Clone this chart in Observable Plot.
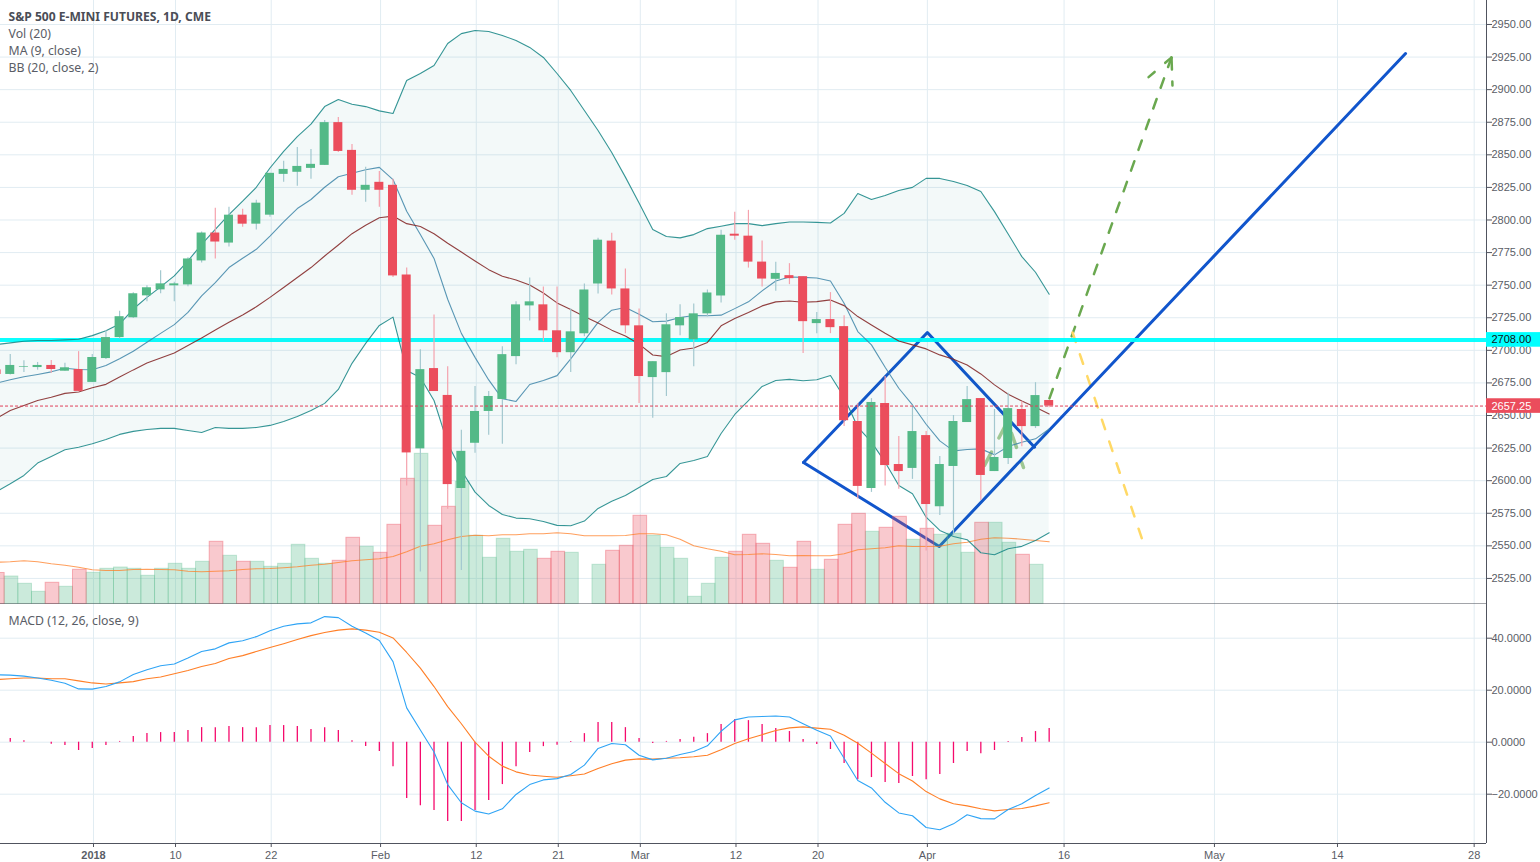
<!DOCTYPE html>
<html><head><meta charset="utf-8">
<style>html,body{margin:0;padding:0;background:#fff;overflow:hidden}svg{display:block}</style>
<script src="https://cdn.jsdelivr.net/npm/d3@7"></script>
<script src="https://cdn.jsdelivr.net/npm/@observablehq/plot@0.6"></script>
</head><body><div id="chart"></div>
<script>
const firstBar=-7;
const opens=[2685,2681.5,2687,2686.8,2688.4,2684,2685.3,2675.4,2693.7,2709.8,2725,2741.8,2746.4,2749.5,2750.2,2768.6,2790,2782.3,2803.7,2796.8,2803.7,2835,2836.6,2839.6,2841.9,2874.7,2853.4,2822.8,2828.9,2826.6,2757.8,2624.4,2686,2665.4,2594,2628.7,2653.1,2662.3,2695.2,2734.1,2734.9,2715,2698.2,2712.7,2750.9,2783.8,2747.1,2718.8,2679.1,2682.9,2718.8,2708.1,2728,2741.7,2789.1,2787.6,2767.7,2754.5,2757.3,2756.5,2720.5,2723.6,2718.2,2645.4,2594,2659.2,2612.4,2609.4,2634.6,2580,2610.9,2644.6,2663,2607,2617,2654.6,2641.5,2661.5];
const closes=[2681.5,2688.4,2687.5,2688.4,2685.3,2686.6,2668.5,2694.5,2709.8,2725.8,2743.4,2748,2751,2751,2770.1,2790,2783.1,2803.7,2796.8,2812.9,2835.8,2838.8,2841.1,2842.7,2874.7,2852.6,2822.8,2826.6,2822.8,2757.1,2621.3,2685.2,2668.4,2597,2622.5,2653.1,2664.6,2696.7,2734.9,2737.2,2715,2698.2,2714.2,2746.3,2784.5,2747.1,2718.8,2679.9,2691.3,2719.6,2725.2,2728,2744,2788.3,2787.6,2767.7,2754.7,2759,2755,2722,2723.6,2717.4,2646,2595.6,2660,2611.6,2607,2637.7,2581.7,2612.4,2645.4,2662.2,2604,2617.8,2655.3,2641.5,2665.3,2657.25];
const highs=[2686,2696.8,2692,2690.7,2692.2,2690,2699,2696.8,2715,2729.9,2744.1,2749.5,2761,2752.3,2771,2790.7,2809,2809.8,2808.3,2815.2,2835.8,2845,2855.7,2854.1,2876.3,2878.6,2858,2840.4,2837.3,2831.2,2763.1,2700.5,2727.2,2687.5,2638.6,2672.2,2668.4,2702.8,2737.2,2755.5,2748.6,2748.6,2731.8,2750.9,2786,2789.9,2762.4,2731.8,2691.3,2728,2734.9,2735.6,2746.3,2792.2,2805.9,2807.4,2783.8,2767.5,2766.5,2756.5,2729,2744.3,2726.6,2659.2,2663,2680,2633.9,2657.6,2637.7,2618.5,2650,2672.2,2663,2654.6,2667,2660.7,2675.2,2661.5];
const lows=[2681,2681,2683,2684.8,2682.5,2684,2668,2675.4,2693,2708.7,2724.5,2737.3,2743.4,2737.3,2748.7,2767,2770.1,2779.3,2794.5,2792.3,2802.2,2828.9,2825.9,2831.2,2841.9,2851.8,2819,2813.6,2809.8,2755.8,2596,2530,2668.4,2578,2531,2621,2634.8,2628,2689,2722.6,2706.6,2694.4,2683,2710.4,2743.3,2742.5,2712.7,2659.3,2647.8,2664.6,2711.2,2687.5,2725.7,2736.4,2784.5,2763.1,2748.6,2745.3,2750.4,2697.5,2712.8,2712.8,2641.5,2586,2591,2596,2593.5,2601,2546,2573.3,2558,2644.6,2584.8,2607,2612.4,2626,2640,2656];
const bbUpper=[2704.4,2705.7,2707,2707.5,2707.5,2708,2708.5,2711.3,2715,2720.2,2731.7,2740.6,2748.7,2757.1,2768.6,2781.3,2792.8,2804.2,2814.4,2825.1,2839.9,2852.6,2864,2873.5,2887,2892.5,2888.8,2887,2883.7,2881.7,2907,2912.4,2918.5,2935.4,2943,2945.4,2944.6,2941.6,2937.7,2932.4,2924.7,2912.4,2899.4,2884,2868.7,2851.8,2832.9,2813,2792.7,2787.3,2786.3,2788.8,2793.4,2795.2,2797.2,2797.2,2795.7,2797.2,2798.5,2798.5,2798.2,2797.7,2805.1,2820.3,2815.7,2818.8,2822.6,2825,2831.9,2831.9,2829.6,2826.5,2821.9,2806.4,2789.3,2771.9,2759.9,2743];
const bbLower=[2591.7,2597.6,2604,2613.5,2618.6,2623.7,2625.7,2628.3,2631.6,2635.5,2637.8,2639.3,2640.1,2640.1,2638.5,2637,2640.8,2640.1,2640.1,2640.8,2642.4,2645.4,2649.3,2653.9,2659.3,2670,2690,2705.3,2719.1,2725.5,2684.6,2679.2,2661.5,2628.6,2607.8,2591.2,2581,2574.1,2571.3,2570.8,2568.7,2565.7,2565.4,2569,2578.7,2584.2,2588.6,2594.8,2600.9,2603.2,2613.2,2615.5,2618.6,2636.2,2650.8,2661.5,2672.3,2676.9,2677.7,2676.7,2677.4,2680.7,2664,2641,2629.6,2614.2,2596.3,2590,2572,2561.8,2557.2,2554.7,2544.7,2543.2,2547.8,2549.6,2554.1,2560];
const bbBasis=[2674.9,2677.4,2679.7,2681.5,2683.5,2686.3,2685.3,2685.1,2688.4,2693.5,2699.3,2706.2,2713,2719.7,2729.1,2741.8,2752,2763.5,2770.6,2777.5,2787.7,2798.6,2808.8,2815.7,2825.1,2833.2,2835.8,2838.6,2840.4,2831,2806.7,2788.8,2770.5,2739.2,2713,2694.6,2677.3,2662.8,2660.8,2673.8,2676.8,2680.6,2693.4,2707.4,2721.4,2730.8,2732.8,2727.7,2721.9,2722.4,2725.2,2726.7,2726.5,2727,2732,2737.2,2745.6,2753.2,2756.3,2756,2755.5,2753.2,2736.1,2714.4,2704.2,2687,2670.9,2658.1,2643.3,2630.5,2622.9,2623.9,2624.4,2619.8,2626.2,2629.5,2632.1,2639.7];
const ma9=[2647.7,2653.9,2657.7,2661.5,2664,2667,2668,2671.3,2673.9,2679.5,2685,2690.2,2694.2,2698,2703.7,2709.5,2715.6,2721.5,2727.1,2733.4,2740.6,2748.2,2755.9,2763.5,2772.4,2780.8,2789.5,2796,2801.7,2803,2797.2,2795,2789.4,2782.2,2775.4,2768.5,2761.9,2756.8,2754,2750.1,2744,2736.4,2731.3,2726,2720.9,2715.5,2711,2704.8,2696.4,2695.2,2700.2,2701.8,2706.1,2718.8,2724.4,2729,2734.1,2737.2,2737.9,2736.9,2737.4,2738.7,2734.3,2725.9,2719.5,2713.1,2707.2,2704.2,2701.1,2696.5,2693.2,2688.8,2681.9,2673.5,2666.3,2661.2,2656.4,2651.2];
const volumes=[31,27.5,20.2,12.2,21.2,17.2,34.2,31.2,35.2,36.5,35.2,28.2,35.2,40.2,35.2,42.2,62.2,48.2,42.2,42.2,37.2,40.2,59.2,45.2,40.2,43.2,66.2,57.2,51.2,79.2,125.2,150.2,78.2,97.2,122.2,68.2,46.2,65.2,52.2,54.2,45.2,52.2,51.2,0,39.2,53.2,58.2,88.2,68.2,56.2,45.2,7.2,20.2,46.2,52.2,69.2,60.2,43.2,36.2,62.2,34.2,44.2,79.2,90.2,72.2,76.2,87.2,64.2,75.2,69.2,70.2,51.2,81.2,81.2,61.2,49.2,39.2,0];
const volMA=[41.8,42.2,43.2,42.2,40.2,38.8,36.8,34.2,33.5,33.5,34.5,34.8,34.5,34.2,32.8,32.2,32.8,33.2,34.5,35.2,35.5,36.2,37.2,38.8,39.8,41.5,43.2,44.2,45.2,47.5,52.2,57.8,60.2,64.2,67.5,68.8,68.2,69.2,69.2,70.2,70.2,71.2,70.2,68.2,68.2,68.2,68.5,70.2,70.2,69.2,64.8,58.2,55.2,52.8,49.2,49.5,50.2,49.5,48.2,48.5,48.2,48.2,50.2,54.2,55.2,56.2,58.2,57.5,57.5,57.8,60.2,61.8,64.8,66.2,65.8,64.8,63.5,62.2];
const macd=[25.9,25.8,25.4,24.7,23.8,22.7,20.5,20.4,21.4,23.2,26,27.9,29.4,30.1,32.4,34.9,35.9,38.2,39,40.6,42.9,44.6,45.5,45.9,48.3,47.9,44.6,42,39.1,31,13.2,4.7,-3.8,-16.3,-23.3,-26.5,-27.6,-25.6,-20.1,-16.3,-14.5,-14,-12.4,-8.8,-2.4,-0.5,-1,-5,-6.8,-6.2,-4.7,-3.6,-1.4,4.2,8.6,9.7,9.9,10.1,9.7,7.1,4.6,2.4,-6.2,-14.7,-17.6,-23.1,-27.2,-28.3,-32.8,-33.7,-31.4,-27.9,-29.4,-29.5,-25.9,-23.7,-20.5,-17.6];
const signal=[24.1,24.4,24.7,24.7,24.4,24.4,23.6,22.8,22.4,22.8,23.3,24.4,25.1,26.3,27.6,29.1,30.3,32.2,33.3,34.9,36.4,37.9,39.5,41,42.2,43.1,43.6,43.1,42.3,40.1,34.5,28.5,21.4,13.7,7.1,0,-5.4,-9.2,-11.4,-12.6,-13.1,-13.5,-12.9,-12.2,-10.1,-8.3,-6.9,-6.4,-6.5,-6.2,-6,-5.6,-5,-2.9,-0.5,1.3,2.9,4.5,5.5,5.9,5.4,5,2.7,-0.4,-4.2,-8.2,-12.1,-14.9,-19,-21.8,-23.7,-24.5,-25.6,-26.4,-25.9,-25.5,-24.5,-23.3];
const hist=[0,1.4,0.6,0,-0.8,-1.3,-3.2,-2.4,-1.3,0.3,2.2,3.3,3.7,3.7,4.5,5.6,5.6,6,5.6,5.6,6.4,6.4,6,4.9,5.6,4.5,0.6,-1.7,-3.6,-9.4,-21.7,-24.4,-26.3,-30.5,-30.5,-26.3,-22.4,-16.3,-9.4,-4,-1.7,-1.2,0.3,3.3,7.6,7.6,5.6,1.4,-0.5,0.3,1,1.9,3.3,6.8,8.7,8.3,6.8,5.3,4.1,1,-0.9,-2.8,-8.2,-14.4,-13.6,-15.5,-15.9,-13.2,-14.4,-12.4,-8.2,-3.6,-4.4,-3.2,0.3,1.8,4.1,5.3];

const priceTicks=d3.range(2525,2951,25);
const macdTicks=[40,20,0,-20];
const timeTickBars=[0,6,13,21,28,34,40,47,53,61,71,82,91,101];
const timeTickLabels=["2018","10","22","Feb","12","21","Mar","12","20","Apr","16","May","14","28"];
const legendLines=["S&P 500 E-MINI FUTURES, 1D, CME","Vol (20)","MA (9, close)","BB (20, close, 2)"];
const levelPrice=2708, lastPrice=2657.25;
// trend drawings as [bar, price]
const diamondA=[[51.94,2614],[61,2713.7],[68.84,2625.7]];
const diamondB=[[51.94,2614],[61.87,2549.5],[95.98,2927.7]];
const greenZig=[[65.18,2611.7],[66.86,2645.4],[68.03,2610.1]];
const greenShaft=[[69.93,2663.1],[78.86,2924.7]];
const greenBarbL=[[77.18,2909.6],[78.86,2924.7]];
const greenBarbR=[[78.86,2924.7],[78.93,2903.2]];
const yellowPath=[[71.62,2713.7],[76.74,2554.1]];

const W=1540, axisX=1486, barPx=13.67, bar0Px=93, barShift=-0.09;
const xDomain=[-bar0Px/barPx,(axisX-bar0Px)/barPx];
const rows=opens.map((o,k)=>({i:firstBar+k+barShift,o,c:closes[k],h:highs[k],l:lows[k],up:bbUpper[k],lo:bbLower[k],basis:bbBasis[k],ma:ma9[k],v:volumes[k],vm:volMA[k],m:macd[k],s:signal[k],hs:hist[k]}));
const green="#53b987", red="#eb4d5c", grid="#e1ecf2", axisC="#50535e", txt="#5a5d66", dashGreen="#6aa84f";
const priceBase=2505.4, pxPerPoint=1.3035;
const volP=v=>priceBase+v/pxPerPoint; // volume pane overlays the bottom of the price pane
const bodyHalf=0.33;
const ups=rows.filter(d=>d.c>=d.o), downs=rows.filter(d=>d.c<d.o);
const vol=rows.filter(d=>d.v>0);
const L=(pts,o)=>Plot.line(pts,{x:d=>d[0],y:d=>d[1],...o});
const font='"Liberation Sans",Arial,sans-serif';

const topPane=Plot.plot({
  width:W,height:604,marginTop:0,marginBottom:0,marginLeft:0,marginRight:W-axisX,
  style:{fontFamily:font,background:"#fff"},
  x:{domain:xDomain,axis:null},
  y:{domain:[2505,2968.4],axis:null},
  marks:[
    Plot.ruleY(priceTicks,{stroke:grid}),
    Plot.ruleX(timeTickBars,{stroke:grid}),
    L(greenZig,{stroke:dashGreen,strokeOpacity:.6,strokeWidth:3.5,strokeDasharray:"15,16"}),
    L(greenShaft,{stroke:dashGreen,strokeWidth:2.5,strokeDasharray:"10,12"}),
    L(greenBarbL,{stroke:dashGreen,strokeWidth:2.5,strokeDasharray:"8,14"}),
    L(greenBarbR,{stroke:dashGreen,strokeWidth:2.5,strokeDasharray:"12,12"}),
    L(yellowPath,{stroke:"#ffd966",strokeWidth:2.5,strokeDasharray:"10,13"}),
    L(diamondA,{stroke:"#1155cc",strokeWidth:3}),
    L(diamondB,{stroke:"#1155cc",strokeWidth:3}),
    Plot.ruleY([levelPrice],{stroke:"#00ffff",strokeWidth:4,opacity:.95}),
    Plot.rect(vol.filter(d=>d.c>=d.o),{x1:d=>d.i-.41,x2:d=>d.i+.59,y1:priceBase,y2:d=>volP(d.v),fill:green,fillOpacity:.3,stroke:green,strokeOpacity:.3}),
    Plot.rect(vol.filter(d=>d.c<d.o),{x1:d=>d.i-.41,x2:d=>d.i+.59,y1:priceBase,y2:d=>volP(d.v),fill:red,fillOpacity:.3,stroke:red,strokeOpacity:.4}),
    Plot.line(rows,{x:"i",y:d=>volP(d.vm),stroke:"#ff7f27",strokeOpacity:.75,strokeWidth:1.1}),
    Plot.areaY(rows,{x:"i",y1:"lo",y2:"up",fill:"#138484",fillOpacity:.05}),
    Plot.line(rows,{x:"i",y:"up",stroke:"#138484",strokeOpacity:.85,strokeWidth:1.1}),
    Plot.line(rows,{x:"i",y:"lo",stroke:"#138484",strokeOpacity:.85,strokeWidth:1.1}),
    Plot.line(rows,{x:"i",y:"basis",stroke:"#3d85a8",strokeOpacity:.85,strokeWidth:1.1}),
    Plot.line(rows,{x:"i",y:"ma",stroke:"#802020",strokeOpacity:.85,strokeWidth:1.1}),
    Plot.ruleX(ups,{x:"i",y1:"l",y2:"h",stroke:"#a3c8cf",strokeWidth:1.2}),
    Plot.ruleX(downs,{x:"i",y1:"l",y2:"h",stroke:"#f5a2ad",strokeWidth:1.2}),
    Plot.rect(ups,{x1:d=>d.i-bodyHalf,x2:d=>d.i+bodyHalf,y1:"o",y2:"c",fill:green}),
    Plot.rect(downs,{x1:d=>d.i-bodyHalf,x2:d=>d.i+bodyHalf,y1:"o",y2:"c",fill:red}),
    Plot.ruleY([lastPrice],{stroke:"#e0405a",strokeWidth:1,strokeDasharray:"3,2"}),
    Plot.ruleX([xDomain[1]],{stroke:axisC}),
    Plot.ruleY([priceBase],{stroke:axisC}),
    Plot.axisY(priceTicks,{anchor:"right",label:null,tickSize:5,tickPadding:0,tickFormat:d3.format(".2f"),stroke:axisC,color:txt,fontSize:11}),
    Plot.rect([levelPrice],{x1:xDomain[1],x2:xDomain[1]+4,y1:d=>d-5.6,y2:d=>d+5.6,fill:"#00ffff"}),
    Plot.text([levelPrice],{x:xDomain[1],y:d=>d,text:d=>d.toFixed(2),dx:5,textAnchor:"start",fill:"#111",fontSize:11}),
    Plot.rect([lastPrice],{x1:xDomain[1],x2:xDomain[1]+4,y1:d=>d-5.6,y2:d=>d+5.6,fill:red}),
    Plot.text([lastPrice],{x:xDomain[1],y:d=>d,text:d=>d.toFixed(2),dx:5,textAnchor:"start",fill:"#fff",fontSize:11}),
    Plot.text([legendLines[0]],{frameAnchor:"top-left",dx:8,dy:12,text:d=>d,fontFamily:'"Noto Sans"',fontSize:12.1,fontWeight:"bold",fill:"#4a4d56"}),
    ...legendLines.slice(1).map((t,k)=>Plot.text([t],{frameAnchor:"top-left",dx:8,dy:29+17*k,text:d=>d,fontFamily:'"Noto Sans"',fontSize:12.3,fill:txt}))
  ]
});

const bottomPane=Plot.plot({
  width:W,height:258,marginTop:0,marginBottom:19,marginLeft:0,marginRight:W-axisX,
  style:{fontFamily:font,background:"#fff"},
  x:{domain:xDomain,axis:null},
  y:{domain:[-38.96,52.96],axis:null},
  marks:[
    Plot.ruleY(macdTicks,{stroke:grid}),
    Plot.ruleX(timeTickBars,{stroke:grid}),
    Plot.ruleX(rows.filter(d=>d.hs!==0),{x:"i",y1:0,y2:"hs",stroke:"#f50a6c",strokeWidth:1.3}),
    Plot.line(rows,{x:"i",y:"s",stroke:"#ff7f27",strokeWidth:1.1}),
    Plot.line(rows,{x:"i",y:"m",stroke:"#2fa4f5",strokeWidth:1.1}),
    Plot.ruleX([xDomain[1]],{stroke:axisC}),
    Plot.ruleY([-38.96],{stroke:axisC}),
    Plot.axisY(macdTicks,{anchor:"right",label:null,tickSize:5,tickPadding:0,tickFormat:d3.format(".4f"),stroke:axisC,color:txt,fontSize:11}),
    Plot.axisX(timeTickBars,{anchor:"bottom",label:null,tickSize:4,tickPadding:0,tickFormat:()=>"",stroke:axisC}),
    Plot.text(timeTickBars.slice(1),{x:d=>d,frameAnchor:"bottom",dy:15,text:d=>timeTickLabels[timeTickBars.indexOf(d)],fill:txt,fontSize:11}),
    Plot.text(timeTickBars.slice(0,1),{x:d=>d,frameAnchor:"bottom",dy:15,text:d=>timeTickLabels[timeTickBars.indexOf(d)],fill:txt,fontSize:11,fontWeight:"bold"}),
    Plot.text(["MACD (12, 26, close, 9)"],{frameAnchor:"top-left",dx:8,dy:12,text:d=>d,fontFamily:'"Noto Sans"',fontSize:12.3,fill:txt})
  ]
});
document.getElementById("chart").append(topPane,bottomPane);
</script></body></html>
